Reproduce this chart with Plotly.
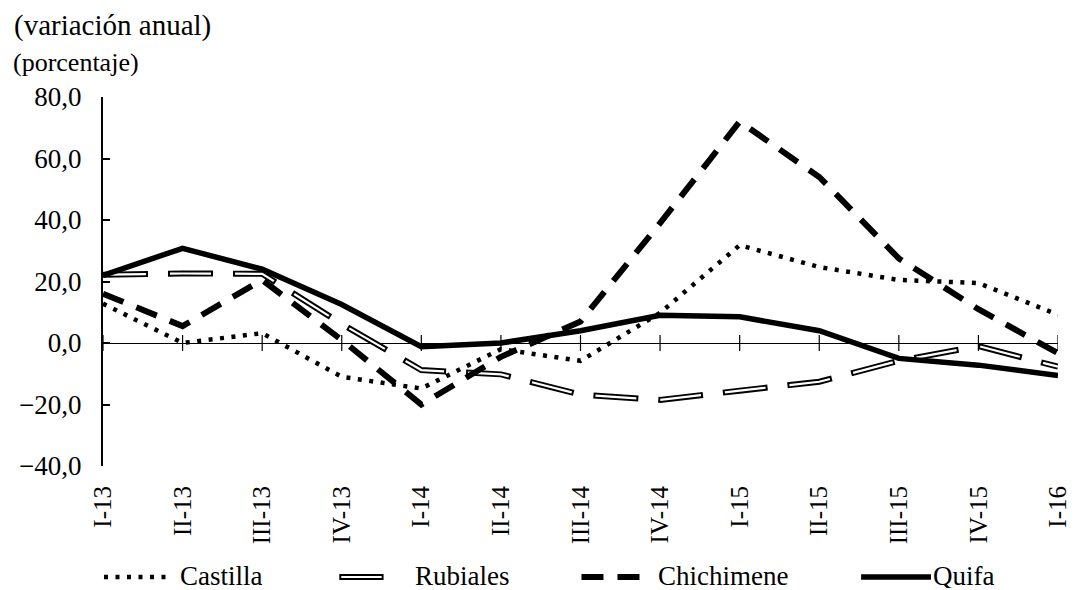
import plotly.graph_objects as go

# quarters and annual variation (%) per crude type
quarters = ["I-13", "II-13", "III-13", "IV-13", "I-14", "II-14", "III-14",
            "IV-14", "I-15", "II-15", "III-15", "IV-15", "I-16"]
castilla = [12.8, 0.0, 3.2, -11.0, -14.8, -2.0, -5.8, 9.8, 31.8, 24.7, 20.5, 19.5, 9.2]
rubiales = [22.2, 22.6, 22.5, 6.2, -8.8, -10.2, -16.8, -18.5, -15.5, -12.6, -5.8, -1.0, -7.7]
chichimene = [16.0, 5.5, 20.5, 1.0, -20.0, -4.5, 7.0, 39.0, 72.0, 54.0, 27.5, 11.0, -3.3]
quifa = [22.0, 30.8, 24.0, 12.5, -1.2, 0.0, 4.0, 9.0, 8.5, 4.0, -5.0, -7.2, -10.6]

FONT = "Liberation Serif"
OFF = 8  # page body margin
W, H = 1074, 582
L, R, T, B = 93, 11, 89, 124


def px(x):
    return (x - OFF - L) / (W - L - R)


def py(y):
    return (OFF + H - B - y) / (H - T - B)


fig = go.Figure()

fig.add_trace(go.Scatter(x=quarters, y=castilla, mode="lines", name="Castilla",
                         line=dict(color="black", width=4.5, dash="4px,7.5px")))
# Rubiales: hollow dashed line (black outline with white core)
fig.add_trace(go.Scatter(x=quarters, y=rubiales, mode="lines", name="Rubiales",
                         line=dict(color="black", width=6, dash="45px,20px")))
fig.add_trace(go.Scatter(x=quarters, y=rubiales, mode="lines", showlegend=False,
                         hoverinfo="skip",
                         line=dict(color="white", width=2.2, dash="0px,2px,41px,22px")))
fig.add_trace(go.Scatter(x=quarters, y=chichimene, mode="lines", name="Chichimene",
                         line=dict(color="black", width=6, dash="22px,14px")))
fig.add_trace(go.Scatter(x=quarters, y=quifa, mode="lines", name="Quifa",
                         line=dict(color="black", width=5.5)))

shapes = []
# cross ticks on the zero line
for i in range(len(quarters)):
    shapes.append(dict(type="line", xref="x", yref="y", x0=i, x1=i, y0=-2.6, y1=2.6,
                       line=dict(color="black", width=1.2)))

# hand-made legend
ly = py(577)
shapes.append(dict(type="line", xref="paper", yref="paper", x0=px(102), x1=px(170),
                   y0=ly, y1=ly, line=dict(color="black", width=4.5, dash="4px,7.5px")))
shapes.append(dict(type="line", xref="paper", yref="paper", x0=px(341), x1=px(386),
                   y0=ly, y1=ly, line=dict(color="black", width=6)))
shapes.append(dict(type="line", xref="paper", yref="paper", x0=px(343), x1=px(384),
                   y0=ly, y1=ly, line=dict(color="white", width=2.2)))
shapes.append(dict(type="line", xref="paper", yref="paper", x0=px(587), x1=px(651),
                   y0=ly, y1=ly, line=dict(color="black", width=6, dash="22px,14px")))
shapes.append(dict(type="line", xref="paper", yref="paper", x0=px(871), x1=px(942),
                   y0=ly, y1=ly, line=dict(color="black", width=5.5)))

annotations = [
    dict(text="(variación anual)", x=px(9), y=py(26), xref="paper", yref="paper",
         xanchor="left", yanchor="middle", showarrow=False,
         font=dict(family=FONT, size=29, color="black")),
    dict(text="(porcentaje)", x=px(8), y=py(63), xref="paper", yref="paper",
         xanchor="left", yanchor="middle", showarrow=False,
         font=dict(family=FONT, size=26, color="black")),
]
for name, xpos in [("Castilla", 178), ("Rubiales", 417), ("Chichimene", 664), ("Quifa", 943)]:
    annotations.append(dict(text=name, x=px(xpos), y=py(576), xref="paper", yref="paper",
                            xanchor="left", yanchor="middle", showarrow=False,
                            height=24, valign="middle", borderpad=0,
                            font=dict(family=FONT, size=27, color="black")))

fig.update_layout(
    width=W, height=H,
    margin=dict(l=L, r=R, t=T, b=B),
    paper_bgcolor="white", plot_bgcolor="white",
    font=dict(family=FONT, size=25, color="black"),
    separators=",.",
    showlegend=False,
    shapes=shapes,
    annotations=annotations,
)
fig.update_xaxes(type="category", range=[0, 12], showline=False, showgrid=False,
                 zeroline=False, ticks="", tickangle=-90, ticklabelstandoff=14,
                 tickfont=dict(family=FONT, size=25))
fig.update_yaxes(range=[-40, 80], dtick=20, tickformat=".1f", showgrid=False,
                 showline=True, linecolor="black", linewidth=2,
                 ticks="inside", ticklen=7, tickwidth=1.5, tickcolor="black",
                 ticklabelstandoff=14,
                 zeroline=True, zerolinecolor="black", zerolinewidth=1.2,
                 tickfont=dict(family=FONT, size=27))

fig.write_html("out.html")
